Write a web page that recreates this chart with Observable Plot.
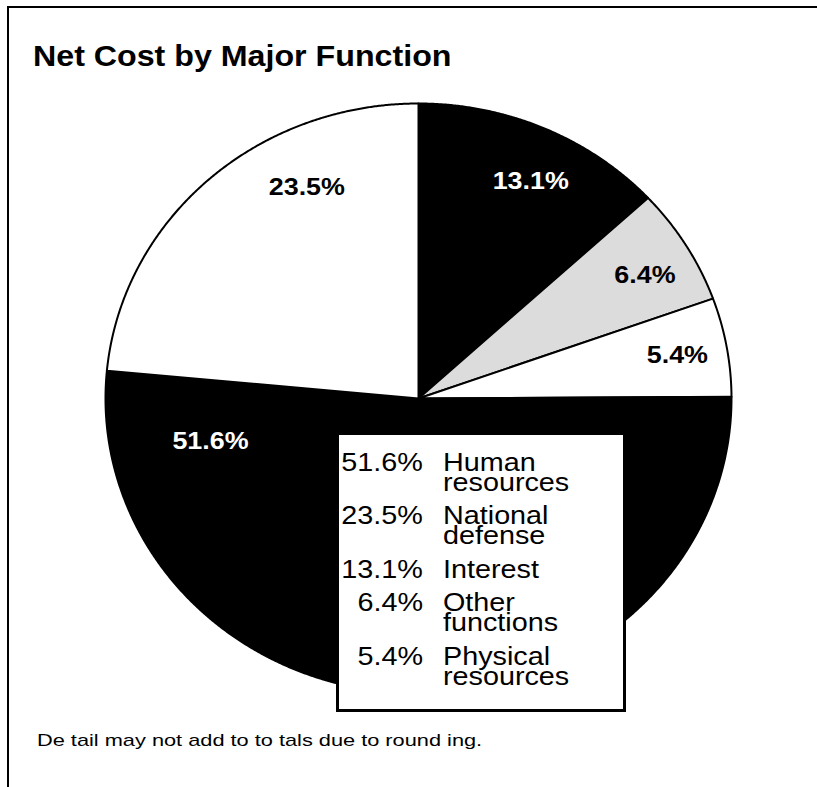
<!DOCTYPE html>
<html><head><meta charset="utf-8">
<script src="https://cdn.jsdelivr.net/npm/d3@7"></script>
<script src="https://cdn.jsdelivr.net/npm/@observablehq/plot@0.6"></script>
<style>
html,body{margin:0;padding:0;background:#fff;}
#page{position:relative;width:817px;height:787px;overflow:hidden;font-family:"Liberation Sans",Arial,Helvetica,sans-serif;color:#000;}
#frame{position:absolute;left:7px;top:6px;width:830px;height:800px;border-top:2px solid #000;border-left:2px solid #000;}
#title{position:absolute;left:33px;top:38px;font-weight:bold;font-size:29px;line-height:36px;transform:scaleX(1.11);transform-origin:left center;white-space:nowrap;}
#chart{position:absolute;left:0;top:90px;}
#legend{position:absolute;left:336px;top:432px;width:284px;height:274px;border:3px solid #000;background:#fff;}
.pct{position:absolute;left:0;width:84px;text-align:right;font-size:25px;line-height:20px;}
.name{position:absolute;left:104px;font-size:25px;line-height:20px;white-space:nowrap;}
.sx{display:inline-block;transform:scaleX(1.15);}
.pct .sx{transform-origin:right center;}
.name .sx{transform-origin:left center;}
#note{position:absolute;left:37px;top:731px;font-size:17px;line-height:20px;transform:scaleX(1.28);transform-origin:left center;white-space:nowrap;}
</style>
</head><body>
<div id="page">
  <div id="frame"></div>
  <div id="title">Net Cost by Major Function</div>
  <div id="chart"></div>
  <div id="legend"></div>
  <div id="note">De tail may not add to to tals due to round ing.</div>
</div>
<script>
// Data (legend order)
const categories = ["Human resources", "National defense", "Interest", "Other functions", "Physical resources"];
const shares = [51.6, 23.5, 13.1, 6.4, 5.4];
const shareLabels = ["51.6%", "23.5%", "13.1%", "6.4%", "5.4%"];
// Clockwise order of slices, starting at 12 o'clock
const pieOrder = ["Interest", "Other functions", "Physical resources", "Human resources", "National defense"];

// Styles
const sliceFill = {"Interest": "#000000", "Other functions": "#dcdcdc", "Physical resources": "#ffffff", "Human resources": "#000000", "National defense": "#ffffff"};
const labelFill = {"Interest": "#ffffff", "Other functions": "#000000", "Physical resources": "#000000", "Human resources": "#ffffff", "National defense": "#000000"};
// label placement: [fraction along the slice's angular span, fraction of radius]
const labelPlace = {"Interest": [0.55, 0.82], "Other functions": [0.56, 0.835], "Physical resources": [0.5, 0.84], "Human resources": [0.905, 0.68], "National defense": [0.687, 0.80]};

const rows = categories.map((c, i) => ({name: c, share: shares[i], label: shareLabels[i]}));
const ordered = pieOrder.map(n => rows.find(r => r.name === n));
const arcs = d3.pie().sort(null).value(d => d.share).startAngle(0).endAngle(2 * Math.PI)(ordered);

const step = Math.PI / 720;
const slices = arcs.map(a => {
  const pts = [{x: 0, y: 0}];
  const n = Math.max(2, Math.ceil((a.endAngle - a.startAngle) / step));
  for (let k = 0; k <= n; k++) {
    const t = a.startAngle + (a.endAngle - a.startAngle) * k / n;
    pts.push({x: Math.sin(t), y: Math.cos(t)});
  }
  pts.push({x: 0, y: 0});
  return {name: a.data.name, points: pts};
});

const labels = arcs.map(a => {
  const [f, r] = labelPlace[a.data.name];
  const t = a.startAngle + (a.endAngle - a.startAngle) * f;
  return {x: r * Math.sin(t), y: r * Math.cos(t), text: a.data.label, fill: labelFill[a.data.name]};
});

const chart = Plot.plot({
  width: 817, height: 640,
  marginLeft: 105, marginRight: 86, marginTop: 13, marginBottom: 37,
  x: {domain: [-1, 1], axis: null},
  y: {domain: [-1, 1], axis: null},
  color: {type: "identity"},
  style: {background: "transparent", overflow: "visible"},
  marks: [
    ...slices.map(s => Plot.line(s.points, {x: "x", y: "y", fill: sliceFill[s.name], stroke: "#000", strokeWidth: 2, strokeLinejoin: "round"})),
    Plot.text(labels, {x: "x", y: "y", text: "text", fill: "fill", fontSize: 24, fontWeight: "bold", fontFamily: "Liberation Sans, Arial, sans-serif", textAnchor: "middle"})
  ]
});
// widen the label glyphs like the reference
chart.querySelectorAll('g[aria-label="text"] text').forEach(t => {
  const tr = t.getAttribute("transform");
  if (tr) t.setAttribute("transform", tr + " scale(1.12,1)");
  else {
    const x = t.getAttribute("x") || 0, y = t.getAttribute("y") || 0;
    t.removeAttribute("x"); t.removeAttribute("y");
    t.setAttribute("transform", `translate(${x},${y}) scale(1.12,1)`);
  }
});
document.getElementById("chart").appendChild(chart);

// Legend
const legendEl = document.getElementById("legend");
let rowTop = 16.7;
rows.forEach(r => {
  const parts = r.name.split(" ");
  const p = document.createElement("div");
  p.className = "pct"; p.style.top = rowTop + "px";
  p.innerHTML = `<span class="sx">${r.label}</span>`;
  const nm = document.createElement("div");
  nm.className = "name"; nm.style.top = rowTop + "px";
  nm.innerHTML = `<span class="sx">${parts.join("<br>")}</span>`;
  legendEl.appendChild(p); legendEl.appendChild(nm);
  rowTop += parts.length * 20 + 13.5;
});
</script>
</body></html>
